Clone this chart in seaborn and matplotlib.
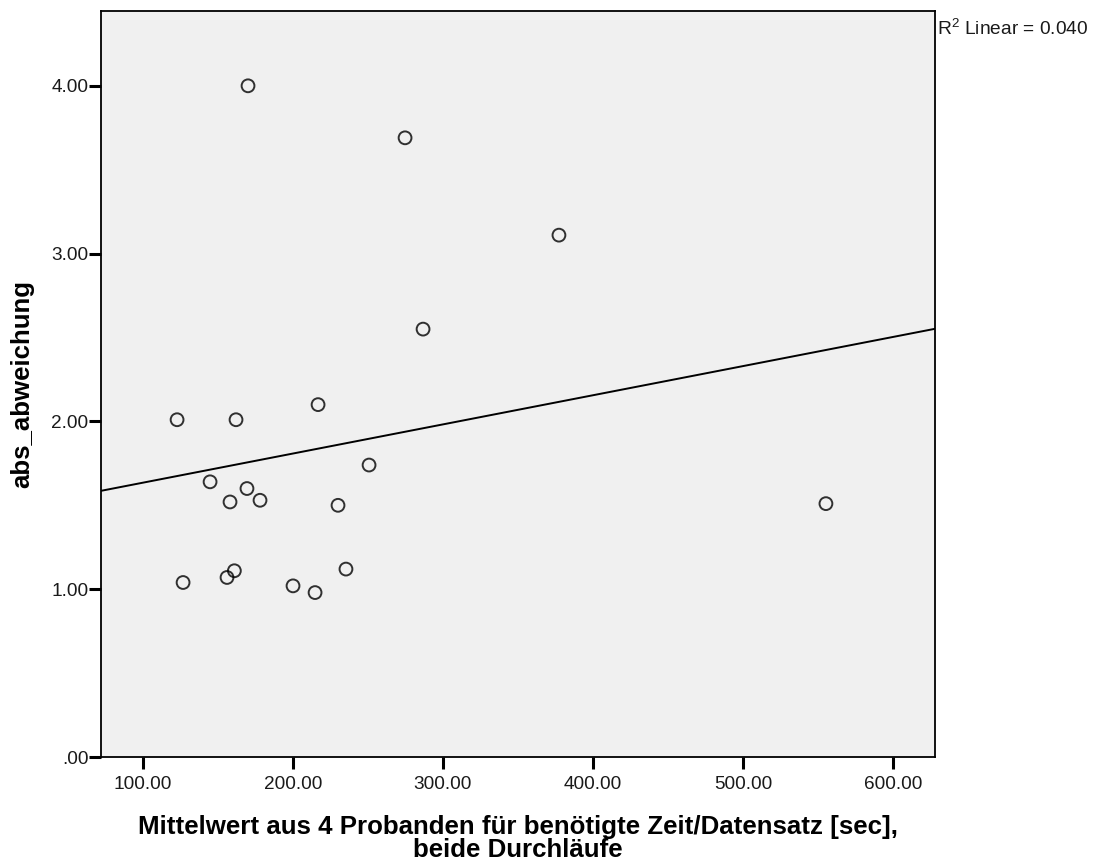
import numpy as np
import pandas as pd
import matplotlib
matplotlib.use("Agg")
import matplotlib.pyplot as plt
import seaborn as sns

# values
zeit = [170.0, 274.7, 377.3, 286.7, 216.7, 122.7, 162.0, 250.7, 144.7, 169.3,
        158.0, 178.0, 230.0, 555.3, 126.7, 156.0, 160.9, 200.0, 214.7, 235.3]
abweichung = [4.00, 3.69, 3.11, 2.55, 2.10, 2.01, 2.01, 1.74, 1.64, 1.60,
              1.52, 1.53, 1.50, 1.51, 1.04, 1.07, 1.11, 1.02, 0.98, 1.12]
x_ticks = [100, 200, 300, 400, 500, 600]
y_ticks = [0, 1, 2, 3, 4]
r2_text = "R$^2$ Linear = 0.040"

df = pd.DataFrame({"zeit": zeit, "abs_abweichung": abweichung})

sns.set_theme(style="white")
plt.rcParams["font.family"] = ["Liberation Sans", "DejaVu Sans"]
plt.rcParams["mathtext.fontset"] = "custom"
plt.rcParams["mathtext.rm"] = "Liberation Sans"

fig = plt.figure(figsize=(10.97, 8.63), dpi=100)
ax = fig.add_axes([0.0921, 0.1228, 0.7602, 0.8645])
ax.set_facecolor("#f0f0f0")
ax.set_xlim(72, 628)
ax.set_ylim(0, 4.446)

sns.regplot(data=df, x="zeit", y="abs_abweichung", ax=ax, ci=None, truncate=False,
            scatter_kws=dict(s=85, facecolors="none", edgecolors="black", linewidths=1.4),
            line_kws=dict(color="black", lw=1.4))
ax.set_xlim(72, 628)

ax.set_xticks(x_ticks)
ax.set_xticklabels([f"{v:.2f}" for v in x_ticks])
ax.set_yticks(y_ticks)
ax.set_yticklabels([".00" if v == 0 else f"{v:.2f}" for v in y_ticks])
ax.tick_params(axis="both", direction="out", length=8.5, width=2.2, color="black",
               labelsize=13.7, labelcolor="#1a1a1a", left=True, bottom=True)
ax.tick_params(axis="y", pad=0.5)
ax.tick_params(axis="x", pad=5)

for side, sp in ax.spines.items():
    sp.set_visible(True)
    sp.set_color("black")
    sp.set_linewidth(1.3)

ax.set_xlabel("Mittelwert aus 4 Probanden für benötigte Zeit/Datensatz [sec],\nbeide Durchläufe",
              fontsize=18.6, fontweight="bold", labelpad=16, linespacing=0.95, color="black")
ax.set_ylabel("abs_abweichung", fontsize=18.6, fontweight="bold", labelpad=12, color="black")

fig.text(0.854, 0.967, r2_text, fontsize=13.8, ha="left", va="center", color="#1a1a1a")

fig.savefig("out.png", dpi=100)
